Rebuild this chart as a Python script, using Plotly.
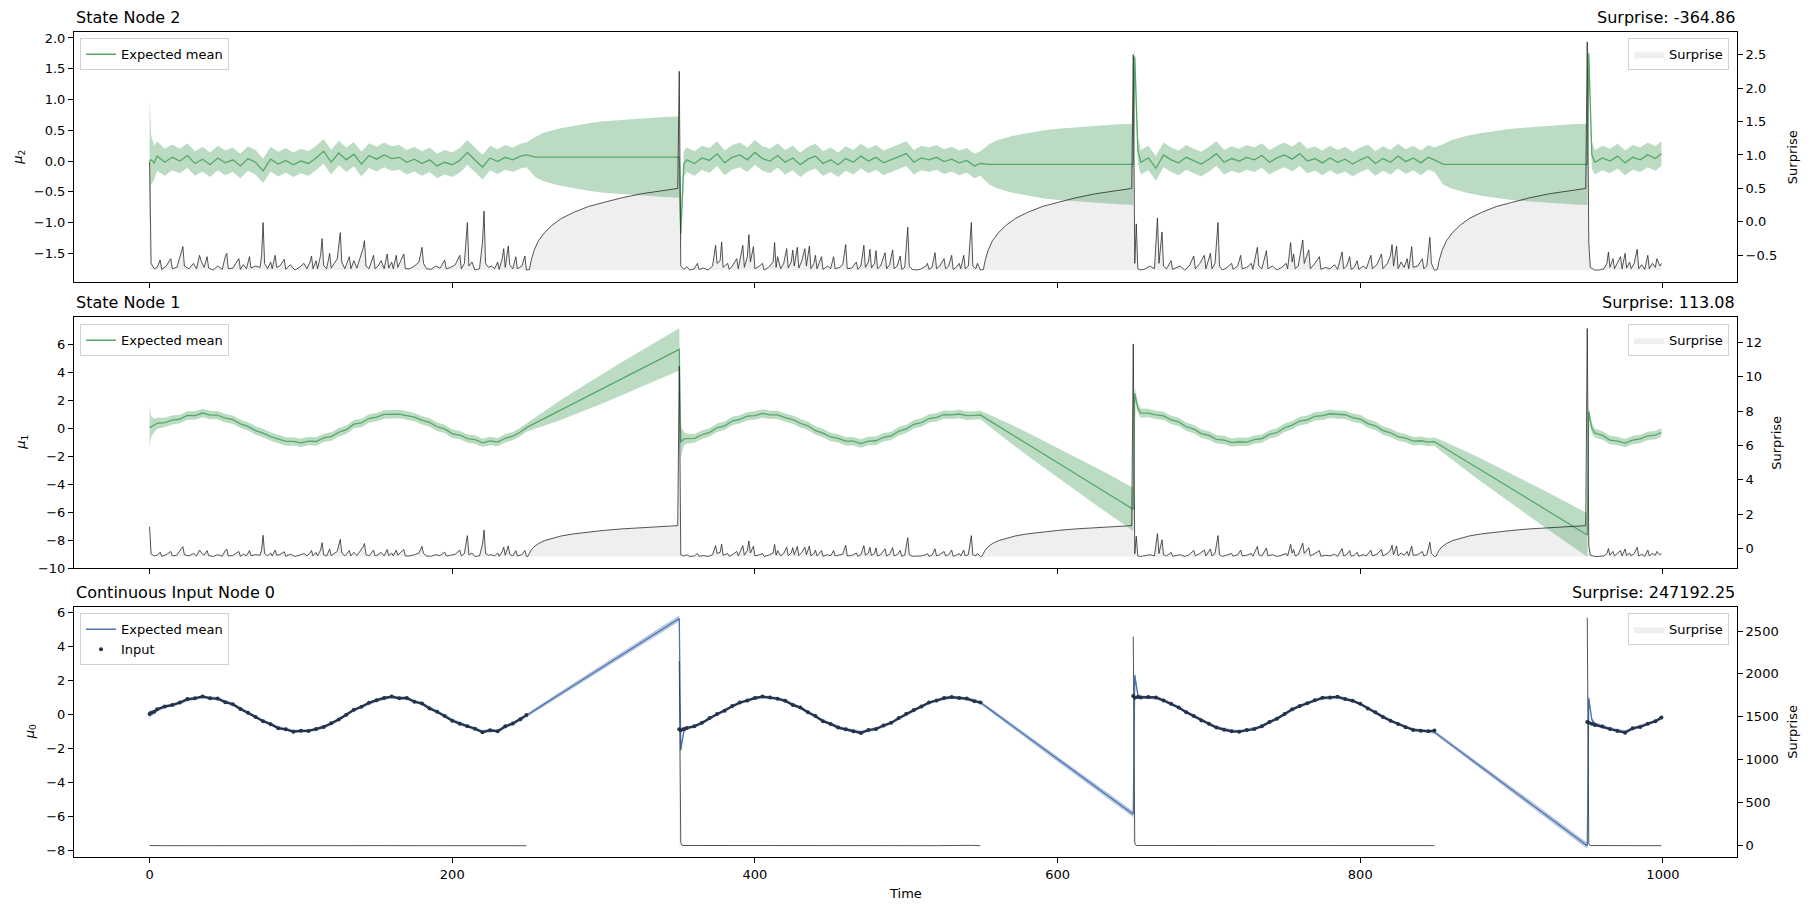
import plotly.graph_objects as go

# ------------------------------------------------------------------ data
TIME = ([0, 1, 3] + list(range(5, 250, 5)) + [249]
        + [255, 260, 270, 280, 290, 300, 310, 320, 330, 340]
        + [350, 351, 353] + list(range(355, 550, 5)) + [549]
        + [555, 560, 570, 580, 590, 600, 610, 620, 630, 640]
        + [650, 651, 653] + list(range(655, 850, 5)) + [849]
        + [855, 860, 870, 880, 890, 900, 910, 920, 930, 940]
        + [950, 951, 953] + list(range(955, 1000, 5)) + [999])
GAP = [None] * 10

# ---- continuous input node 0 : observed input values
INPUT_0 = (
    [0.02, 0.10, 0.16, 0.30, 0.47, 0.55, 0.70, 0.90, 0.95, 1.06,
     0.95, 0.93, 0.72, 0.60, 0.32, 0.10, -0.16, -0.40, -0.58, -0.82,
     -0.88, -1.02, -0.97, -0.98, -0.86, -0.74, -0.52, -0.30, -0.02, 0.28,
     0.45, 0.68, 0.84, 0.97, 1.05, 0.95, 0.97, 0.74, 0.64, 0.35,
     0.16, -0.10, -0.37, -0.55, -0.70, -0.85, -1.06, -0.93, -1.00, -0.70,
     -0.54, -0.28, -0.04]
    + GAP
    + [-0.88, -0.93, -0.86, -0.80, -0.70, -0.50, -0.22, 0.02, 0.22, 0.50,
       0.70, 0.82, 0.97, 1.05, 1.00, 0.92, 0.80, 0.56, 0.40, 0.12,
       -0.10, -0.40, -0.56, -0.78, -0.88, -1.00, -1.10, -0.92, -0.86, -0.66,
       -0.50, -0.22, 0.03, 0.26, 0.46, 0.70, 0.82, 0.96, 1.02, 0.96,
       0.93, 0.78, 0.70]
    + GAP
    + [1.08, 0.98, 1.02, 1.00, 1.02, 1.00, 0.82, 0.62, 0.40, 0.12,
       -0.10, -0.36, -0.55, -0.78, -0.90, -1.00, -1.02, -0.92, -0.86, -0.70,
       -0.45, -0.26, 0.02, 0.30, 0.50, 0.66, 0.84, 0.98, 1.00, 1.04,
       0.90, 0.80, 0.62, 0.35, 0.12, -0.15, -0.38, -0.56, -0.76, -0.92,
       -0.96, -1.00, -0.95]
    + GAP
    + [-0.45, -0.50, -0.55, -0.62, -0.72, -0.86, -0.98, -1.08, -0.82, -0.74,
       -0.55, -0.40, -0.18]
)

# ---- node 0 expected mean / sd
MEAN_0 = (
    [0.00, 0.02, 0.12, 0.26, 0.44, 0.55, 0.68, 0.86, 0.94, 1.02,
     0.97, 0.92, 0.75, 0.60, 0.35, 0.12, -0.13, -0.38, -0.56, -0.78,
     -0.88, -0.99, -0.98, -0.96, -0.88, -0.74, -0.55, -0.30, -0.05, 0.25,
     0.44, 0.66, 0.82, 0.95, 1.02, 0.97, 0.95, 0.77, 0.64, 0.38,
     0.17, -0.08, -0.34, -0.53, -0.69, -0.84, -1.01, -0.95, -0.97, -0.74,
     -0.55, -0.30, -0.06]
    + [0.28, 0.56, 1.13, 1.69, 2.26, 2.82, 3.39, 3.95, 4.52, 5.09]
    + [5.65, -2.10, -1.00, -0.82, -0.70, -0.52, -0.25, 0.00, 0.22, 0.48,
       0.68, 0.82, 0.95, 1.02, 1.00, 0.93, 0.80, 0.58, 0.40, 0.14,
       -0.10, -0.38, -0.56, -0.76, -0.88, -0.98, -1.05, -0.95, -0.85, -0.68,
       -0.50, -0.25, 0.00, 0.25, 0.46, 0.68, 0.82, 0.94, 1.00, 0.97,
       0.92, 0.80, 0.70]
    + [0.31, -0.02, -0.67, -1.32, -1.98, -2.63, -3.28, -3.93, -4.58, -5.24]
    + [-5.89, 2.30, 1.15, 1.02, 1.00, 0.98, 0.83, 0.63, 0.42, 0.15,
       -0.10, -0.34, -0.55, -0.76, -0.89, -0.98, -1.00, -0.94, -0.85, -0.70,
       -0.47, -0.26, 0.00, 0.27, 0.49, 0.66, 0.83, 0.95, 1.00, 1.01,
       0.92, 0.80, 0.62, 0.37, 0.14, -0.13, -0.37, -0.56, -0.75, -0.89,
       -0.96, -0.98, -1.05]
    + [-1.45, -1.78, -2.44, -3.11, -3.77, -4.43, -5.09, -5.76, -6.42, -7.08]
    + [-7.75, 0.95, -0.30, -0.55, -0.70, -0.85, -0.95, -1.02, -0.85, -0.72,
       -0.56, -0.40, -0.25]
)
SD_GAP_0 = [0.11, 0.12, 0.13, 0.14, 0.15, 0.16, 0.17, 0.17, 0.18, 0.18]
SD_0 = ([0.30, 0.15, 0.12] + [0.10] * 50 + SD_GAP_0
        + [0.18, 0.30, 0.12] + [0.10] * 40 + SD_GAP_0
        + [0.18, 0.30, 0.12] + [0.10] * 40 + SD_GAP_0
        + [0.18, 0.30, 0.12] + [0.10] * 10)

# ---- state node 1 expected mean / sd
MEAN_1 = (
    [0.05, 0.12, 0.20, 0.36, 0.41, 0.59, 0.66, 0.92, 0.91, 1.09,
     0.94, 0.94, 0.72, 0.62, 0.32, 0.14, -0.16, -0.34, -0.59, -0.74,
     -0.94, -0.93, -1.04, -0.91, -0.94, -0.68, -0.59, -0.28, -0.10, 0.30,
     0.38, 0.70, 0.80, 0.99, 0.99, 1.02, 0.91, 0.80, 0.58, 0.42,
     0.11, -0.04, -0.39, -0.48, -0.74, -0.80, -1.04, -0.90, -0.99, -0.71,
     -0.56, -0.26, 0.05]
    + [0.38, 0.66, 1.21, 1.77, 2.32, 2.87, 3.43, 3.98, 4.53, 5.09]
    + [5.64, -1.00, -0.75, -0.74, -0.72, -0.46, -0.29, 0.04, 0.18, 0.52,
       0.64, 0.87, 0.91, 1.06, 0.96, 0.96, 0.76, 0.62, 0.36, 0.18,
       -0.16, -0.34, -0.62, -0.72, -0.92, -0.92, -1.09, -0.91, -0.89, -0.64,
       -0.54, -0.21, -0.04, 0.29, 0.41, 0.70, 0.78, 0.98, 0.96, 1.02,
       0.90, 0.92, 0.95]
    + [0.55, 0.22, -0.45, -1.12, -1.79, -2.45, -3.12, -3.79, -4.45, -5.12]
    + [-5.79, 2.50, 1.45, 1.08, 1.09, 0.96, 0.89, 0.60, 0.46, 0.11,
       -0.06, -0.38, -0.51, -0.79, -0.84, -1.02, -0.96, -0.98, -0.81, -0.74,
       -0.43, -0.30, 0.04, 0.23, 0.52, 0.61, 0.86, 0.90, 1.04, 0.98,
       0.97, 0.76, 0.66, 0.34, 0.18, -0.16, -0.32, -0.59, -0.70, -0.92,
       -0.89, -0.99, -0.95]
    + [-1.35, -1.68, -2.34, -3.00, -3.66, -4.32, -4.98, -5.64, -6.30, -6.96]
    + [-7.62, 1.20, 0.00, -0.34, -0.51, -0.84, -0.91, -1.06, -0.84, -0.76,
       -0.54, -0.49, -0.30]
)
SD_1 = ([1.45, 0.75, 0.48, 0.40, 0.34, 0.32] + [0.30] * 47
        + [0.42, 0.52, 0.68, 0.82, 0.95, 1.06, 1.16, 1.26, 1.35, 1.43]
        + [1.51, 1.10, 0.50, 0.36, 0.32] + [0.30] * 38
        + [0.42, 0.52, 0.68, 0.82, 0.95, 1.06, 1.17, 1.28, 1.38, 1.47]
        + [1.55, 0.45, 0.38, 0.33] + [0.30] * 39
        + [0.42, 0.52, 0.68, 0.82, 0.95, 1.06, 1.17, 1.28, 1.38, 1.47]
        + [1.55, 0.40, 0.36, 0.32] + [0.30] * 9)

# ---- state node 2 expected mean / sd
MEAN_2 = (
    [0.00, 0.02, -0.03, 0.08, -0.02, 0.06, 0.00, 0.09, -0.04, 0.03,
     -0.06, 0.05, -0.03, 0.02, -0.08, 0.04, -0.02, -0.16, 0.03, -0.05,
     0.01, -0.06, 0.00, -0.04, 0.05, 0.16, -0.02, 0.13, 0.02, 0.11,
     -0.05, 0.09, 0.03, 0.10, 0.04, 0.06, -0.02, 0.03, -0.04, 0.02,
     -0.08, -0.02, -0.06, 0.01, 0.14, 0.02, -0.10, 0.05, -0.01, 0.06,
     0.02, 0.08, 0.10]
    + [0.065] * 10
    + [0.065, -1.18, -0.05, 0.02, -0.04, 0.05, 0.01, 0.12, -0.03, 0.06,
       0.10, 0.02, 0.14, 0.04, 0.00, 0.09, -0.02, 0.05, -0.06, 0.03,
       0.08, -0.04, 0.02, -0.06, 0.04, -0.02, 0.08, 0.00, 0.06, -0.03,
       0.02, 0.07, 0.12, -0.02, 0.05, 0.02, 0.06, -0.01, 0.03, -0.03,
       0.01, -0.08, -0.04]
    + [-0.054] * 10
    + [-0.054, 1.70, 0.18, -0.02, 0.05, -0.12, 0.10, 0.02, -0.03, 0.06,
       0.00, -0.05, 0.03, 0.12, -0.02, 0.04, 0.00, 0.06, 0.02, 0.09,
       -0.02, 0.05, 0.10, 0.03, 0.12, 0.00, 0.04, -0.03, 0.05, -0.02,
       0.03, -0.05, 0.02, 0.07, -0.04, 0.04, -0.02, 0.08, -0.01, 0.05,
       -0.03, 0.06, 0.02]
    + [-0.054] * 10
    + [-0.054, 1.75, 0.10, -0.02, 0.05, 0.00, 0.08, -0.03, 0.06, 0.02,
       0.10, 0.04, 0.12]
)
SD_GAP_2 = [0.33, 0.39, 0.46, 0.51, 0.55, 0.58, 0.60, 0.62, 0.64, 0.65]
SD_2 = ([1.00, 0.40, 0.28, 0.24, 0.22, 0.21] + [0.20] * 47 + SD_GAP_2
        + [0.66, 0.25, 0.21] + [0.20] * 40 + SD_GAP_2
        + [0.66, 0.16, 0.22] + [0.20] * 40 + SD_GAP_2
        + [0.66, 0.16, 0.22] + [0.20] * 10)

# ---- surprise traces (time, value)
SURPRISE_2 = [
    (0, 0.90), (1, -0.62), (3, -0.70), (5, -0.68), (7, -0.57), (8, -0.71), (11, -0.66), (14, -0.55), (15, -0.70),
    (18, -0.68), (21, -0.45), (22, -0.37), (23, -0.66), (26, -0.70), (29, -0.62), (31, -0.70), (33, -0.50),
    (34, -0.58), (36, -0.68), (38, -0.52), (39, -0.69), (42, -0.72), (45, -0.66), (48, -0.71), (50, -0.52),
    (51, -0.47), (52, -0.70), (55, -0.69), (57, -0.62), (59, -0.55), (60, -0.71), (62, -0.64), (64, -0.70),
    (66, -0.52), (67, -0.69), (70, -0.66), (73, -0.68), (74, -0.50), (75, -0.01), (76, -0.62), (78, -0.70),
    (80, -0.60), (81, -0.70), (83, -0.50), (84, -0.68), (86, -0.66), (89, -0.56), (90, -0.71), (93, -0.64),
    (96, -0.72), (99, -0.68), (102, -0.62), (104, -0.70), (106, -0.60), (107, -0.51), (108, -0.70), (110, -0.58),
    (111, -0.70), (113, -0.50), (114, -0.25), (115, -0.65), (117, -0.70), (119, -0.47), (120, -0.69), (122, -0.62),
    (124, -0.55), (126, -0.16), (127, -0.60), (129, -0.70), (132, -0.52), (133, -0.70), (135, -0.58), (137, -0.69),
    (139, -0.55), (141, -0.40), (142, -0.28), (143, -0.66), (145, -0.70), (148, -0.50), (149, -0.70), (151, -0.66),
    (153, -0.58), (155, -0.70), (157, -0.48), (158, -0.69), (160, -0.60), (161, -0.70), (163, -0.50), (164, -0.68),
    (166, -0.58), (168, -0.48), (169, -0.70), (172, -0.70), (175, -0.66), (178, -0.60), (180, -0.38), (181, -0.62),
    (183, -0.70), (186, -0.71), (189, -0.66), (192, -0.69), (195, -0.57), (196, -0.70), (199, -0.68), (202, -0.64),
    (205, -0.50), (206, -0.70), (208, -0.62), (210, -0.01), (211, -0.66), (213, -0.60), (215, -0.72), (218, -0.70),
    (220, -0.30), (221, 0.16), (222, -0.62), (224, -0.68), (226, -0.66), (228, -0.70), (230, -0.60), (231, -0.71),
    (233, -0.55), (234, -0.40), (235, -0.68), (237, -0.36), (238, -0.64), (240, -0.70), (242, -0.52), (243, -0.70),
    (246, -0.66), (248, -0.51), (249, -0.72),
    (250, -0.72), (251, -0.71), (252, -0.59), (254, -0.43), (257, -0.28), (261, -0.16), (266, -0.05), (272, 0.05),
    (280, 0.14), (290, 0.23), (300, 0.29), (312, 0.36), (325, 0.42), (337, 0.46), (349, 0.50),
    (350, 2.25), (351, -0.66),
    (353, -0.71), (355, -0.67), (357, -0.72), (360, -0.70), (362, -0.62), (363, -0.71), (366, -0.69), (369, -0.72),
    (372, -0.66), (374, -0.35), (375, -0.62), (377, -0.58), (378, -0.30), (379, -0.68), (382, -0.62), (383, -0.71),
    (385, -0.66), (388, -0.55), (389, -0.70), (391, -0.50), (392, -0.35), (393, -0.68), (395, -0.52), (396, -0.19),
    (397, -0.60), (399, -0.37), (400, -0.70), (403, -0.66), (405, -0.62), (406, -0.72), (409, -0.68), (412, -0.60),
    (413, -0.31), (414, -0.68), (415, -0.52), (417, -0.70), (419, -0.62), (421, -0.40), (422, -0.69), (424, -0.60),
    (425, -0.42), (426, -0.66), (428, -0.38), (429, -0.69), (431, -0.58), (433, -0.40), (434, -0.66), (436, -0.36),
    (437, -0.70), (439, -0.62), (440, -0.50), (441, -0.70), (444, -0.52), (445, -0.71), (448, -0.66), (450, -0.70),
    (452, -0.52), (453, -0.70), (456, -0.68), (458, -0.64), (460, -0.34), (461, -0.70), (464, -0.69), (467, -0.60),
    (468, -0.71), (470, -0.66), (472, -0.35), (473, -0.68), (475, -0.60), (476, -0.41), (477, -0.69), (479, -0.62),
    (480, -0.43), (481, -0.70), (483, -0.66), (486, -0.46), (487, -0.70), (489, -0.64), (491, -0.42), (492, -0.70),
    (494, -0.66), (496, -0.51), (497, -0.71), (499, -0.68), (501, -0.08), (502, -0.66), (504, -0.71), (507, -0.72),
    (510, -0.70), (513, -0.66), (514, -0.62), (515, -0.71), (517, -0.68), (519, -0.46), (520, -0.70), (522, -0.66),
    (525, -0.55), (526, -0.70), (528, -0.66), (530, -0.50), (531, -0.71), (533, -0.68), (535, -0.62), (536, -0.70),
    (538, -0.50), (539, -0.70), (541, -0.66), (543, -0.01), (544, -0.66), (546, -0.70), (547, -0.62), (549, -0.72),
    (550, -0.72), (551, -0.71), (552, -0.59), (554, -0.43), (557, -0.28), (561, -0.16), (566, -0.05), (572, 0.05),
    (580, 0.14), (590, 0.23), (600, 0.29), (612, 0.36), (625, 0.42), (637, 0.46), (649, 0.50),
    (650, 2.50), (651, -0.62),
    (652, -0.03), (653, -0.70), (655, -0.72), (658, -0.70), (661, -0.66), (664, -0.70), (666, 0.06), (667, -0.62),
    (669, -0.15), (670, -0.66), (672, -0.70), (675, -0.58), (676, -0.71), (679, -0.68), (681, -0.66), (684, -0.72),
    (687, -0.66), (690, -0.51), (691, -0.70), (694, -0.62), (697, -0.50), (698, -0.70), (701, -0.47), (702, -0.70),
    (704, -0.62), (706, -0.01), (707, -0.66), (709, -0.72), (712, -0.68), (715, -0.62), (716, -0.71), (719, -0.66),
    (721, -0.50), (722, -0.70), (725, -0.68), (728, -0.62), (729, -0.71), (732, -0.38), (733, -0.66), (735, -0.70),
    (738, -0.43), (739, -0.70), (742, -0.66), (745, -0.72), (748, -0.68), (751, -0.62), (752, -0.70), (754, -0.31),
    (755, -0.60), (756, -0.48), (757, -0.70), (759, -0.66), (762, -0.27), (763, -0.62), (766, -0.42), (767, -0.70),
    (770, -0.62), (773, -0.52), (774, -0.71), (777, -0.68), (780, -0.70), (783, -0.64), (785, -0.71), (788, -0.45),
    (789, -0.70), (791, -0.66), (793, -0.52), (794, -0.71), (796, -0.68), (798, -0.58), (799, -0.71), (802, -0.66),
    (804, -0.70), (807, -0.50), (808, -0.70), (811, -0.64), (814, -0.48), (815, -0.70), (818, -0.62), (820, -0.50),
    (821, -0.34), (822, -0.66), (824, -0.36), (825, -0.70), (827, -0.60), (829, -0.68), (831, -0.55), (832, -0.70),
    (834, -0.37), (835, -0.68), (838, -0.66), (841, -0.55), (842, -0.70), (844, -0.66), (846, -0.23), (847, -0.62),
    (849, -0.72),
    (850, -0.72), (851, -0.71), (852, -0.59), (854, -0.43), (857, -0.28), (861, -0.16), (866, -0.05), (872, 0.05),
    (880, 0.14), (890, 0.23), (900, 0.29), (912, 0.36), (925, 0.42), (937, 0.46), (949, 0.50),
    (950, 2.69), (951, -0.30),
    (952, -0.68), (955, -0.72), (958, -0.72), (961, -0.70), (963, -0.62), (964, -0.45), (965, -0.68), (967, -0.55),
    (968, -0.70), (970, -0.62), (972, -0.52), (973, -0.70), (975, -0.47), (976, -0.69), (978, -0.60), (979, -0.70),
    (981, -0.62), (983, -0.41), (984, -0.70), (986, -0.64), (988, -0.71), (990, -0.50), (991, -0.70), (993, -0.62),
    (995, -0.68), (996, -0.55), (998, -0.66), (999, -0.62),
]

SURPRISE_1 = [
    (0, 1.28), (1, -0.30), (3, -0.42), (5, -0.38), (7, -0.20), (8, -0.44), (11, -0.35), (14, -0.16), (15, -0.42),
    (18, -0.38), (21, 0.01), (22, 0.12), (23, -0.35), (26, -0.42), (29, -0.28), (31, -0.42), (33, -0.08),
    (34, -0.22), (36, -0.38), (38, -0.11), (39, -0.40), (42, -0.45), (45, -0.35), (48, -0.44), (50, -0.11),
    (51, -0.02), (52, -0.42), (55, -0.40), (57, -0.28), (59, -0.16), (60, -0.44), (62, -0.32), (64, -0.42),
    (66, -0.11), (67, -0.40), (70, -0.35), (73, -0.38), (74, -0.08), (75, 0.78), (76, -0.28), (78, -0.42),
    (80, -0.25), (81, -0.42), (83, -0.08), (84, -0.38), (86, -0.35), (89, -0.18), (90, -0.44), (93, -0.32),
    (96, -0.45), (99, -0.38), (102, -0.28), (104, -0.42), (106, -0.25), (107, -0.10), (108, -0.42), (110, -0.21),
    (111, -0.42), (113, -0.08), (114, 0.35), (115, -0.35), (117, -0.42), (119, -0.02), (120, -0.40), (122, -0.28),
    (124, -0.16), (126, 0.54), (127, -0.25), (129, -0.42), (132, -0.11), (133, -0.42), (135, -0.21), (137, -0.40),
    (139, -0.16), (141, 0.09), (142, 0.30), (143, -0.35), (145, -0.42), (148, -0.08), (149, -0.42), (151, -0.35),
    (153, -0.21), (155, -0.42), (157, -0.05), (158, -0.40), (160, -0.25), (161, -0.42), (163, -0.08), (164, -0.38),
    (166, -0.21), (168, -0.05), (169, -0.42), (172, -0.42), (175, -0.35), (178, -0.25), (180, 0.13), (181, -0.28),
    (183, -0.42), (186, -0.44), (189, -0.35), (192, -0.40), (195, -0.20), (196, -0.42), (199, -0.38), (202, -0.32),
    (205, -0.08), (206, -0.42), (208, -0.28), (210, 0.76), (211, -0.35), (213, -0.25), (215, -0.45), (218, -0.42),
    (220, 0.26), (221, 1.08), (222, -0.28), (224, -0.38), (226, -0.35), (228, -0.42), (230, -0.25), (231, -0.44),
    (233, -0.16), (234, 0.09), (235, -0.38), (237, 0.16), (238, -0.32), (240, -0.42), (242, -0.11), (243, -0.42),
    (246, -0.35), (248, -0.10), (249, -0.45),
    (250, -0.45), (251, -0.27), (252, -0.10), (254, 0.11), (257, 0.30), (261, 0.47), (266, 0.61), (272, 0.74),
    (280, 0.86), (290, 0.97), (300, 1.06), (312, 1.15), (325, 1.23), (337, 1.29), (349, 1.34),
    (350, 10.6), (351, -0.35),
    (353, -0.42), (355, -0.36), (357, -0.45), (360, -0.42), (362, -0.28), (363, -0.44), (366, -0.40), (369, -0.45),
    (372, -0.35), (374, 0.18), (375, -0.28), (377, -0.21), (378, 0.26), (379, -0.38), (382, -0.28), (383, -0.44),
    (385, -0.35), (388, -0.16), (389, -0.42), (391, -0.08), (392, 0.18), (393, -0.38), (395, -0.11), (396, 0.45),
    (397, -0.25), (399, 0.15), (400, -0.42), (403, -0.35), (405, -0.28), (406, -0.45), (409, -0.38), (412, -0.25),
    (413, 0.25), (414, -0.38), (415, -0.11), (417, -0.42), (419, -0.28), (421, 0.09), (422, -0.40), (424, -0.25),
    (425, 0.06), (426, -0.35), (428, 0.13), (429, -0.40), (431, -0.21), (433, 0.09), (434, -0.35), (436, 0.16),
    (437, -0.42), (439, -0.28), (440, -0.08), (441, -0.42), (444, -0.11), (445, -0.44), (448, -0.35), (450, -0.42),
    (452, -0.11), (453, -0.42), (456, -0.38), (458, -0.32), (460, 0.20), (461, -0.42), (464, -0.40), (467, -0.25),
    (468, -0.44), (470, -0.35), (472, 0.18), (473, -0.38), (475, -0.25), (476, 0.08), (477, -0.40), (479, -0.28),
    (480, 0.04), (481, -0.42), (483, -0.35), (486, -0.01), (487, -0.42), (489, -0.32), (491, 0.06), (492, -0.42),
    (494, -0.35), (496, -0.10), (497, -0.44), (499, -0.38), (501, 0.64), (502, -0.35), (504, -0.44), (507, -0.45),
    (510, -0.42), (513, -0.35), (514, -0.28), (515, -0.44), (517, -0.38), (519, -0.01), (520, -0.42), (522, -0.35),
    (525, -0.16), (526, -0.42), (528, -0.35), (530, -0.08), (531, -0.44), (533, -0.38), (535, -0.28), (536, -0.42),
    (538, -0.08), (539, -0.42), (541, -0.35), (543, 0.76), (544, -0.35), (546, -0.42), (547, -0.28), (549, -0.45),
    (550, -0.45), (551, -0.27), (552, -0.10), (554, 0.11), (557, 0.30), (561, 0.47), (566, 0.61), (572, 0.74),
    (580, 0.86), (590, 0.97), (600, 1.06), (612, 1.15), (625, 1.23), (637, 1.29), (649, 1.34),
    (650, 11.9), (651, -0.30),
    (652, 0.72), (653, -0.42), (655, -0.45), (658, -0.42), (661, -0.35), (664, -0.42), (666, 0.88), (667, -0.28),
    (669, 0.52), (670, -0.35), (672, -0.42), (675, -0.21), (676, -0.44), (679, -0.38), (681, -0.35), (684, -0.45),
    (687, -0.35), (690, -0.10), (691, -0.42), (694, -0.28), (697, -0.08), (698, -0.42), (701, -0.02), (702, -0.42),
    (704, -0.28), (706, 0.76), (707, -0.35), (709, -0.45), (712, -0.38), (715, -0.28), (716, -0.44), (719, -0.35),
    (721, -0.08), (722, -0.42), (725, -0.38), (728, -0.28), (729, -0.44), (732, 0.13), (733, -0.35), (735, -0.42),
    (738, 0.04), (739, -0.42), (742, -0.35), (745, -0.45), (748, -0.38), (751, -0.28), (752, -0.42), (754, 0.25),
    (755, -0.25), (756, -0.05), (757, -0.42), (759, -0.35), (762, 0.32), (763, -0.28), (766, 0.06), (767, -0.42),
    (770, -0.28), (773, -0.11), (774, -0.44), (777, -0.38), (780, -0.42), (783, -0.32), (785, -0.44), (788, 0.01),
    (789, -0.42), (791, -0.35), (793, -0.11), (794, -0.44), (796, -0.38), (798, -0.21), (799, -0.44), (802, -0.35),
    (804, -0.42), (807, -0.08), (808, -0.42), (811, -0.32), (814, -0.05), (815, -0.42), (818, -0.28), (820, -0.08),
    (821, 0.20), (822, -0.35), (824, 0.16), (825, -0.42), (827, -0.25), (829, -0.38), (831, -0.16), (832, -0.42),
    (834, 0.15), (835, -0.38), (838, -0.35), (841, -0.16), (842, -0.42), (844, -0.35), (846, 0.38), (847, -0.28),
    (849, -0.45),
    (850, -0.45), (851, -0.27), (852, -0.10), (854, 0.11), (857, 0.30), (861, 0.47), (866, 0.61), (872, 0.74),
    (880, 0.86), (890, 0.97), (900, 1.06), (912, 1.15), (925, 1.23), (937, 1.29), (949, 1.34),
    (950, 12.8), (951, 0.20),
    (952, -0.38), (955, -0.45), (958, -0.45), (961, -0.42), (963, -0.28), (964, 0.01), (965, -0.38), (967, -0.16),
    (968, -0.42), (970, -0.28), (972, -0.11), (973, -0.42), (975, -0.02), (976, -0.40), (978, -0.25), (979, -0.42),
    (981, -0.28), (983, 0.08), (984, -0.42), (986, -0.32), (988, -0.44), (990, -0.08), (991, -0.42), (993, -0.28),
    (995, -0.38), (996, -0.16), (998, -0.35), (999, -0.28),
]

SURPRISE_0 = [
    (0, 4.0), (1, 1.2), (10, -0.5), (25, 0.3), (40, -0.6), (55, 1.0), (70, -0.2), (75, 3.0), (85, -0.5),
    (100, 0.4), (114, 2.0), (126, 2.5), (140, -0.3), (160, 0.6), (180, -0.4), (200, 0.8), (210, 3.0),
    (221, 4.0), (235, 0.2), (249, -0.5), (250, None),
    (350, 2150.0), (351, 35.0), (352, 2.0), (374, 1.0), (396, 2.0), (420, -0.4), (440, 0.5), (460, 1.0),
    (480, -0.3), (501, 3.0), (520, 0.2), (543, 3.5), (549, -0.4), (550, None),
    (650, 2434.0), (651, 30.0), (652, 2.0), (666, 2.5), (690, 0.0), (706, 3.0), (730, -0.4), (754, 1.5),
    (780, -0.2), (800, 0.5), (821, 1.5), (846, 1.0), (849, -0.5), (850, None),
    (950, 2655.0), (951, 25.0), (952, 1.5), (964, 1.0), (975, 0.5), (983, 1.0), (999, -0.3),
]

PANEL_TITLES = ["State Node 2", "State Node 1", "Continuous Input Node 0"]
SURPRISE_TITLES = ["Surprise: -364.86", "Surprise: 113.08", "Surprise: 247192.25"]
Y_LABELS = ["<i>μ</i><sub>2</sub>", "<i>μ</i><sub>1</sub>", "<i>μ</i><sub>0</sub>"]
X_TICKS = [0, 200, 400, 600, 800, 1000]
YL_TICKS = [[-1.5, -1.0, -0.5, 0.0, 0.5, 1.0, 1.5, 2.0],
            [-10, -8, -6, -4, -2, 0, 2, 4, 6],
            [-8, -6, -4, -2, 0, 2, 4, 6]]
YR_TICKS = [[-0.5, 0.0, 0.5, 1.0, 1.5, 2.0, 2.5],
            [0, 2, 4, 6, 8, 10, 12],
            [0, 500, 1000, 1500, 2000, 2500]]

for s in (INPUT_0, MEAN_0, SD_0, MEAN_1, SD_1, MEAN_2, SD_2):
    assert len(s) == len(TIME), (len(s), len(TIME))

# ------------------------------------------------------------------ layout helpers
W, H = 1811, 911
ML, MR, MT, MB = 74, 74, 32, 54
PW, PH = W - ML - MR, H - MT - MB


def ppy(px):
    return (H - MB - px) / PH


def ppx(px):
    return (px - ML) / PW


DOMAINS = [[ppy(282.3), 1.0], [ppy(568.3), ppy(317.3)], [0.0, ppy(606.7)]]
XR = [-49.95, 1048.95]
YL_RANGE = [[-1.971, 2.097], [-10.0, 7.93], [-8.41, 6.35]]
YR_RANGE = [[-0.903, 2.838], [-1.14, 13.45], [-132.0, 2783.0]]

GREEN = "#55a868"
GREEN_FILL = "rgba(85,168,104,0.4)"
BLUE = "#4c72b0"
BLUE_FILL = "rgba(76,114,176,0.4)"
SURP_LINE = "#2a2a2a"
SURP_FILL = "rgba(127,127,127,0.12)"
FONT = "DejaVu Sans"

panels = [
    dict(x="x2", yl="y", yr="y2", mean=MEAN_2, sd=SD_2, color=GREEN, fill=GREEN_FILL,
         surp=SURPRISE_2, legl="legend", legr="legend2"),
    dict(x="x3", yl="y3", yr="y4", mean=MEAN_1, sd=SD_1, color=GREEN, fill=GREEN_FILL,
         surp=SURPRISE_1, legl="legend3", legr="legend4"),
    dict(x="x", yl="y5", yr="y6", mean=MEAN_0, sd=SD_0, color=BLUE, fill=BLUE_FILL,
         surp=SURPRISE_0, legl="legend5", legr="legend6"),
]

fig = go.Figure()
for i, p in enumerate(panels):
    lo = [m - s for m, s in zip(p["mean"], p["sd"])]
    hi = [m + s for m, s in zip(p["mean"], p["sd"])]
    fig.add_trace(go.Scatter(x=TIME, y=lo, mode="lines", line=dict(width=0, color=p["fill"]),
                             xaxis=p["x"], yaxis=p["yl"], showlegend=False, hoverinfo="skip"))
    fig.add_trace(go.Scatter(x=TIME, y=hi, mode="lines", line=dict(width=0, color=p["fill"]),
                             fill="tonexty", fillcolor=p["fill"],
                             xaxis=p["x"], yaxis=p["yl"], showlegend=False, hoverinfo="skip"))
    fig.add_trace(go.Scatter(x=TIME, y=p["mean"], mode="lines", name="Expected mean",
                             line=dict(color=p["color"], width=1.3),
                             xaxis=p["x"], yaxis=p["yl"], legend=p["legl"]))
    if i == 2:
        fig.add_trace(go.Scatter(x=TIME, y=INPUT_0, mode="lines", line=dict(color="#26324a", width=2.2),
                                 xaxis=p["x"], yaxis=p["yl"], showlegend=False, connectgaps=False,
                                 hoverinfo="skip"))
        fig.add_trace(go.Scatter(x=TIME, y=INPUT_0, mode="markers", name="Input",
                                 marker=dict(color="#26324a", size=4),
                                 xaxis=p["x"], yaxis=p["yl"], legend=p["legl"]))
    # surprise: split into observed segments (None marks an unobserved stretch)
    segments, cur = [], []
    for t, v in p["surp"]:
        if v is None:
            if cur:
                segments.append(cur)
            cur = []
        else:
            cur.append((t, v))
    if cur:
        segments.append(cur)
    base = min(v for seg in segments for _, v in seg)
    for k, seg in enumerate(segments):
        st = [a for a, _ in seg]
        sv = [b for _, b in seg]
        fig.add_trace(go.Scatter(x=st, y=[base] * len(st), mode="lines", line=dict(width=0),
                                 xaxis=p["x"], yaxis=p["yr"], showlegend=False, hoverinfo="skip"))
        fig.add_trace(go.Scatter(x=st, y=sv, mode="lines", line=dict(width=0, color=SURP_FILL),
                                 fill="tonexty", fillcolor=SURP_FILL, name="Surprise",
                                 showlegend=(k == 0), xaxis=p["x"], yaxis=p["yr"], legend=p["legr"]))
    st = [a for a, _ in p["surp"]]
    sv = [b for _, b in p["surp"]]
    fig.add_trace(go.Scatter(x=st, y=sv, mode="lines", line=dict(color=SURP_LINE, width=0.8),
                             connectgaps=False, xaxis=p["x"], yaxis=p["yr"], showlegend=False))

axis_common = dict(showline=True, linecolor="black", linewidth=1, ticks="outside", ticklen=5,
                   tickwidth=1, tickcolor="black", showgrid=False, zeroline=False,
                   tickfont=dict(family=FONT, size=13, color="black"))

layout = dict(
    width=W, height=H, autosize=False,
    margin=dict(l=ML, r=MR, t=MT, b=MB, pad=0),
    paper_bgcolor="white", plot_bgcolor="white",
    font=dict(family=FONT, size=13, color="black"),
    hovermode=False,
)
layout["xaxis"] = dict(axis_common, domain=[0, 1], anchor="y5", range=XR, tickvals=X_TICKS, mirror=True,
                       showticklabels=True)
layout["xaxis2"] = dict(axis_common, domain=[0, 1], anchor="y", range=XR, tickvals=X_TICKS, mirror=True,
                        matches="x", showticklabels=False)
layout["xaxis3"] = dict(axis_common, domain=[0, 1], anchor="y3", range=XR, tickvals=X_TICKS, mirror=True,
                        matches="x", showticklabels=False)
left_names = ["yaxis", "yaxis3", "yaxis5"]
right_names = ["yaxis2", "yaxis4", "yaxis6"]
xa = ["x2", "x3", "x"]
left_ids = ["y", "y3", "y5"]
fmt = [".1f", "d", "d"]
fmt_r = [".1f", "d", "d"]
for i in range(3):
    layout[left_names[i]] = dict(axis_common, domain=DOMAINS[i], anchor=xa[i], range=YL_RANGE[i],
                                 tickvals=YL_TICKS[i], tickformat=fmt[i], mirror=True)
    layout[right_names[i]] = dict(axis_common, overlaying=left_ids[i], side="right", anchor=xa[i],
                                  range=YR_RANGE[i], tickvals=YR_TICKS[i], tickformat=fmt_r[i])

leg_style = dict(bgcolor="rgba(255,255,255,0.85)", bordercolor="#d0d0d0", borderwidth=1,
                 font=dict(family=FONT, size=13, color="black"), itemwidth=30, tracegroupgap=2)
leg_tops = [ppy(38.3), ppy(324.3), ppy(613.3)]
for i in range(3):
    kl = "legend" if i == 0 else "legend%d" % (2 * i + 1)
    kr = "legend%d" % (2 * i + 2)
    layout[kl] = dict(leg_style, x=ppx(80), y=leg_tops[i], xanchor="left", yanchor="top")
    layout[kr] = dict(leg_style, x=ppx(1729), y=leg_tops[i], xanchor="right", yanchor="top")

ann = []
ylab_x = [18.6, 22.0, 30.4]
rlab_x = [1792.0, 1777.0, 1793.0]
for i in range(3):
    top = DOMAINS[i][1]
    mid = (DOMAINS[i][0] + DOMAINS[i][1]) / 2
    ann.append(dict(text=PANEL_TITLES[i], x=0, y=top, xref="paper", yref="paper", xanchor="left",
                    yanchor="bottom", yshift=3, showarrow=False, font=dict(family=FONT, size=16)))
    ann.append(dict(text=SURPRISE_TITLES[i], x=1, y=top, xref="paper", yref="paper", xanchor="right",
                    yanchor="bottom", yshift=3, showarrow=False, font=dict(family=FONT, size=16)))
    ann.append(dict(text=Y_LABELS[i], x=ppx(ylab_x[i]), y=mid, xref="paper", yref="paper",
                    xanchor="center", yanchor="middle", textangle=-90, showarrow=False,
                    font=dict(family=FONT, size=13)))
    ann.append(dict(text="Surprise", x=ppx(rlab_x[i]), y=mid, xref="paper", yref="paper",
                    xanchor="center", yanchor="middle", textangle=-90, showarrow=False,
                    font=dict(family=FONT, size=13)))
ann.append(dict(text="Time", x=0.5, y=ppy(893), xref="paper", yref="paper", xanchor="center",
                yanchor="middle", showarrow=False, font=dict(family=FONT, size=13)))
layout["annotations"] = ann

fig.update_layout(layout)
fig.write_html("out.html", config={"displayModeBar": False})
